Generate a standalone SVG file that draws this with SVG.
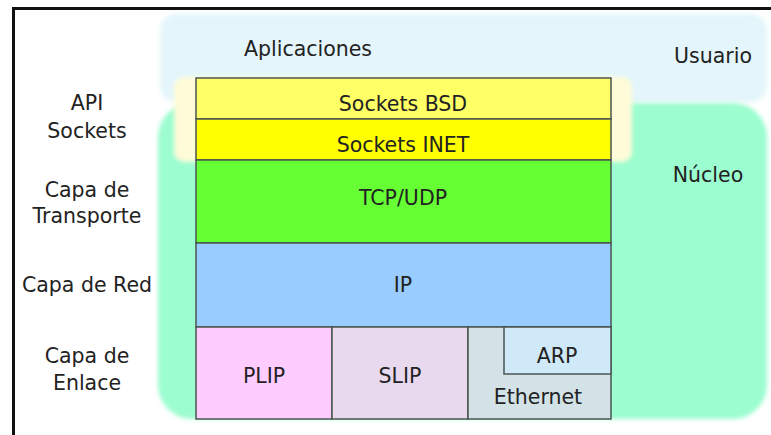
<svg xmlns="http://www.w3.org/2000/svg" width="771" height="435" viewBox="0 0 771 435">
<defs>
<filter id="soft" x="-10%" y="-10%" width="120%" height="120%"><feGaussianBlur stdDeviation="2"/></filter>
</defs>
<style>
text{font-family:"DejaVu Sans","Verdana",sans-serif;font-size:20.5px;fill:#222;text-anchor:middle}
.box{stroke:#4a5550;stroke-width:1.5}
</style>
<rect x="0" y="0" width="771" height="435" fill="#ffffff"/>
<g id="frame" stroke="#111" stroke-width="3" fill="none">
<line x1="12" y1="8.5" x2="771" y2="8.5"/>
<line x1="13.5" y1="7" x2="13.5" y2="435"/>
</g>
<g id="usuario">
<rect x="160" y="14" width="607" height="88" rx="16" fill="#e4f6fb" filter="url(#soft)"/>
<text x="713" y="63">Usuario</text>
<text x="308" y="56">Aplicaciones</text>
</g>
<g id="nucleo">
<rect x="158" y="103" width="609" height="316" rx="34" fill="#9cfdd0" filter="url(#soft)"/>
<text x="708" y="182">Núcleo</text>
</g>
<g id="api-highlight">
<rect x="174" y="77" width="458" height="85" rx="10" fill="#fffbd8" filter="url(#soft)"/>
</g>
<g id="labels">
<text x="87" y="110">API</text>
<text x="87" y="138">Sockets</text>
<text x="87" y="197">Capa de</text>
<text x="87" y="223">Transporte</text>
<text x="87" y="292">Capa de Red</text>
<text x="87" y="363">Capa de</text>
<text x="87" y="390">Enlace</text>
</g>
<g id="sockets-bsd">
<rect class="box" x="196" y="78" width="415" height="41" fill="#ffff66"/>
<text x="403" y="111">Sockets BSD</text>
</g>
<g id="sockets-inet">
<rect class="box" x="196" y="119" width="415" height="41" fill="#ffff00"/>
<text x="403" y="152">Sockets INET</text>
</g>
<g id="tcp-udp">
<rect class="box" x="196" y="160" width="415" height="83" fill="#66ff33"/>
<text x="403" y="205">TCP/UDP</text>
</g>
<g id="ip">
<rect class="box" x="196" y="243" width="415" height="84" fill="#99ccff"/>
<text x="403" y="292">IP</text>
</g>
<g id="plip">
<rect class="box" x="196" y="327" width="136" height="92" fill="#ffccff"/>
<text x="264" y="383">PLIP</text>
</g>
<g id="slip">
<rect class="box" x="332" y="327" width="136" height="92" fill="#e8d9ee"/>
<text x="400" y="383">SLIP</text>
</g>
<g id="ethernet">
<rect class="box" x="468" y="327" width="143" height="92" fill="#d3e2e6"/>
<text x="538" y="404">Ethernet</text>
</g>
<g id="arp">
<rect class="box" x="504" y="327" width="107" height="47" fill="#cfe9f8"/>
<text x="557" y="363">ARP</text>
</g>
<g id="connectors"></g>
</svg>
